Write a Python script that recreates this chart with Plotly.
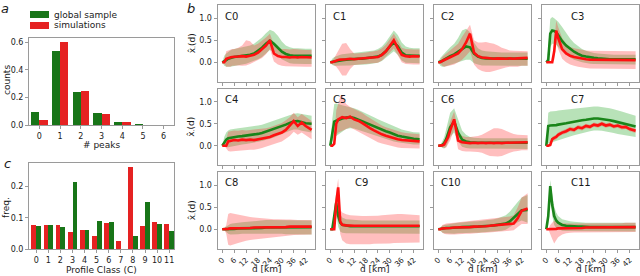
import plotly.graph_objects as go

# ---------------- data: panel a ----------------
peaks = [0, 1, 2, 3, 4, 5, 6]
peaks_global = [0.095, 0.535, 0.24, 0.088, 0.025, 0.005, 0.0]
peaks_sim = [0.035, 0.598, 0.248, 0.082, 0.02, 0.003, 0.001]

# ---------------- data: panel c ----------------
classes = [0, 1, 2, 3, 4, 5, 6, 7, 8, 9, 10, 11]
freq_sim = [0.077, 0.076, 0.076, 0.054, 0.061, 0.042, 0.083, 0.025, 0.262, 0.075, 0.086, 0.081]
freq_global = [0.073, 0.076, 0.070, 0.213, 0.062, 0.090, 0.085, 0.0, 0.041, 0.150, 0.079, 0.058]

# ---------------- data: panel b (distance grid, km) ----------------
D = [0, 1, 2, 3, 4, 5, 6, 8, 10, 12, 14, 16, 18, 20, 22, 24, 26, 28, 30, 32, 34, 36, 38, 40, 42, 45]
d_ticks = [0, 6, 12, 18, 24, 30, 36, 42]
profile_names = ["C0", "C1", "C2", "C3", "C4", "C5", "C6", "C7", "C8", "C9", "C10", "C11"]

C0_g = [0, 0.02, 0.05, 0.08, 0.1, 0.11, 0.12, 0.13, 0.14, 0.15, 0.17, 0.2, 0.26, 0.33, 0.42, 0.49, 0.42, 0.32, 0.24, 0.19, 0.16, 0.15, 0.15, 0.15, 0.15, 0.15]
C0_g_lo = [0, -0.08, -0.1, -0.1, -0.1, -0.1, -0.09, -0.07, -0.05, -0.03, 0, 0.03, 0.07, 0.12, 0.2, 0.28, 0.24, 0.15, 0.07, 0.02, -0.02, -0.03, -0.04, -0.04, -0.04, -0.04]
C0_g_hi = [0, 0.15, 0.2, 0.24, 0.27, 0.29, 0.3, 0.32, 0.34, 0.36, 0.38, 0.42, 0.48, 0.56, 0.66, 0.74, 0.7, 0.6, 0.47, 0.38, 0.34, 0.32, 0.32, 0.31, 0.31, 0.31]
C0_r = [0, 0, 0.08, 0.1, 0.11, 0.12, 0.12, 0.13, 0.14, 0.13, 0.15, 0.17, 0.22, 0.3, 0.38, 0.5, 0.2, 0.14, 0.12, 0.12, 0.11, 0.12, 0.11, 0.12, 0.11, 0.11]
C0_r_lo = [0, -0.02, -0.1, -0.1, -0.1, -0.08, -0.07, -0.07, -0.08, -0.07, -0.04, 0, 0.05, 0.1, 0.18, 0.3, 0.02, -0.05, -0.08, -0.09, -0.1, -0.1, -0.1, -0.1, -0.1, -0.1]
C0_r_hi = [0, 0.05, 0.25, 0.27, 0.28, 0.3, 0.3, 0.33, 0.38, 0.5, 0.48, 0.38, 0.42, 0.48, 0.56, 0.65, 0.4, 0.32, 0.3, 0.3, 0.29, 0.3, 0.29, 0.29, 0.28, 0.28]

C1_g = [0, 0.01, 0.02, 0.03, 0.04, 0.05, 0.05, 0.06, 0.07, 0.07, 0.08, 0.08, 0.09, 0.1, 0.11, 0.13, 0.17, 0.25, 0.36, 0.45, 0.36, 0.22, 0.16, 0.15, 0.15, 0.15]
C1_g_lo = [0, -0.06, -0.08, -0.08, -0.08, -0.08, -0.08, -0.07, -0.07, -0.06, -0.06, -0.05, -0.05, -0.04, -0.03, -0.01, 0.03, 0.09, 0.18, 0.25, 0.17, 0.04, -0.01, -0.02, -0.02, -0.02]
C1_g_hi = [0, 0.08, 0.12, 0.14, 0.16, 0.17, 0.18, 0.19, 0.2, 0.21, 0.22, 0.23, 0.24, 0.25, 0.27, 0.3, 0.36, 0.46, 0.6, 0.72, 0.62, 0.45, 0.36, 0.33, 0.32, 0.32]
C1_r = [0, 0, 0.02, 0.04, 0.05, 0.06, 0.06, 0.07, 0.08, 0.07, 0.08, 0.09, 0.09, 0.1, 0.11, 0.12, 0.17, 0.25, 0.37, 0.5, 0.32, 0.17, 0.14, 0.13, 0.14, 0.13]
C1_r_lo = [0, -0.02, -0.06, -0.1, -0.16, -0.22, -0.3, -0.3, -0.15, -0.06, -0.05, -0.04, -0.04, -0.03, -0.02, -0.01, 0.04, 0.12, 0.22, 0.32, 0.15, 0.0, -0.04, -0.05, -0.05, -0.05]
C1_r_hi = [0, 0.03, 0.1, 0.18, 0.25, 0.33, 0.42, 0.44, 0.3, 0.2, 0.2, 0.21, 0.22, 0.23, 0.25, 0.27, 0.32, 0.4, 0.52, 0.65, 0.5, 0.33, 0.3, 0.29, 0.29, 0.29]

C2_g = [0, 0.01, 0.03, 0.06, 0.09, 0.12, 0.14, 0.18, 0.24, 0.3, 0.36, 0.34, 0.2, 0.13, 0.1, 0.09, 0.09, 0.08, 0.08, 0.08, 0.08, 0.08, 0.08, 0.08, 0.08, 0.08]
C2_g_lo = [0, -0.08, -0.1, -0.1, -0.1, -0.08, -0.06, -0.04, 0.0, 0.03, 0.06, 0.06, -0.02, -0.05, -0.07, -0.08, -0.08, -0.08, -0.08, -0.08, -0.08, -0.08, -0.08, -0.08, -0.08, -0.08]
C2_g_hi = [0, 0.1, 0.15, 0.2, 0.26, 0.3, 0.34, 0.42, 0.55, 0.72, 0.76, 0.68, 0.45, 0.32, 0.27, 0.25, 0.24, 0.23, 0.23, 0.22, 0.22, 0.22, 0.22, 0.22, 0.22, 0.22]
C2_r = [0, 0, 0.03, 0.05, 0.08, 0.1, 0.12, 0.15, 0.2, 0.3, 0.45, 0.65, 0.22, 0.14, 0.11, 0.1, 0.09, 0.08, 0.09, 0.08, 0.08, 0.09, 0.08, 0.09, 0.1, 0.1]
C2_r_lo = [0, -0.02, -0.08, -0.1, -0.1, -0.08, -0.07, -0.05, 0.0, 0.06, 0.15, 0.25, -0.05, -0.15, -0.2, -0.22, -0.22, -0.2, -0.18, -0.15, -0.12, -0.1, -0.1, -0.1, -0.08, -0.08]
C2_r_hi = [0, 0.03, 0.12, 0.16, 0.2, 0.24, 0.28, 0.34, 0.42, 0.58, 0.72, 0.85, 0.5, 0.45, 0.45, 0.46, 0.44, 0.42, 0.38, 0.33, 0.3, 0.27, 0.26, 0.26, 0.25, 0.25]

C3_g = [0, 0.05, 0.65, 0.72, 0.71, 0.68, 0.62, 0.48, 0.38, 0.3, 0.24, 0.19, 0.15, 0.13, 0.11, 0.1, 0.09, 0.08, 0.08, 0.07, 0.07, 0.07, 0.07, 0.07, 0.07, 0.07]
C3_g_lo = [0, 0.0, 0.35, 0.42, 0.42, 0.4, 0.35, 0.25, 0.17, 0.11, 0.06, 0.03, 0.0, -0.02, -0.03, -0.04, -0.05, -0.05, -0.05, -0.05, -0.05, -0.05, -0.05, -0.05, -0.05, -0.05]
C3_g_hi = [0, 0.3, 0.98, 1.03, 1.0, 0.97, 0.92, 0.8, 0.66, 0.54, 0.44, 0.36, 0.3, 0.26, 0.23, 0.21, 0.2, 0.19, 0.18, 0.18, 0.17, 0.17, 0.17, 0.17, 0.17, 0.17]
C3_r = [0, 0, 0, 0, 0.25, 0.72, 0.55, 0.3, 0.2, 0.15, 0.12, 0.1, 0.08, 0.07, 0.06, 0.06, 0.05, 0.05, 0.05, 0.05, 0.05, 0.05, 0.05, 0.05, 0.05, 0.05]
C3_r_lo = [0, 0, 0, 0, 0.05, 0.45, 0.3, 0.08, 0.0, -0.05, -0.08, -0.1, -0.12, -0.13, -0.14, -0.15, -0.15, -0.15, -0.15, -0.15, -0.15, -0.15, -0.15, -0.15, -0.15, -0.15]
C3_r_hi = [0, 0, 0, 0, 0.45, 0.95, 0.8, 0.55, 0.42, 0.35, 0.32, 0.3, 0.28, 0.27, 0.26, 0.26, 0.25, 0.25, 0.25, 0.25, 0.25, 0.25, 0.25, 0.25, 0.25, 0.25]

C4_g = [0, 0.08, 0.14, 0.17, 0.18, 0.19, 0.2, 0.21, 0.22, 0.23, 0.24, 0.25, 0.27, 0.29, 0.32, 0.35, 0.38, 0.42, 0.45, 0.48, 0.52, 0.55, 0.56, 0.53, 0.51, 0.5]
C4_g_lo = [0, -0.02, -0.03, -0.03, -0.02, -0.01, 0.0, 0.01, 0.03, 0.04, 0.05, 0.07, 0.09, 0.11, 0.13, 0.16, 0.19, 0.23, 0.26, 0.3, 0.34, 0.37, 0.37, 0.34, 0.32, 0.3]
C4_g_hi = [0, 0.2, 0.3, 0.35, 0.37, 0.38, 0.39, 0.4, 0.41, 0.42, 0.43, 0.44, 0.46, 0.48, 0.51, 0.54, 0.57, 0.6, 0.63, 0.67, 0.7, 0.73, 0.74, 0.72, 0.7, 0.68]
C4_r = [0, 0, 0, 0.1, 0.11, 0.12, 0.13, 0.12, 0.14, 0.13, 0.14, 0.13, 0.15, 0.16, 0.18, 0.2, 0.24, 0.27, 0.3, 0.36, 0.45, 0.56, 0.45, 0.53, 0.45, 0.36]
C4_r_lo = [0, 0, -0.05, -0.12, -0.13, -0.13, -0.12, -0.12, -0.1, -0.1, -0.09, -0.09, -0.07, -0.05, -0.03, 0.0, 0.04, 0.07, 0.1, 0.15, 0.22, 0.32, 0.25, 0.3, 0.23, 0.15]
C4_r_hi = [0, 0, 0.15, 0.32, 0.33, 0.34, 0.35, 0.34, 0.36, 0.35, 0.36, 0.36, 0.37, 0.38, 0.4, 0.42, 0.45, 0.48, 0.52, 0.58, 0.65, 0.75, 0.65, 0.72, 0.65, 0.56]

C5_g = [0, 0.3, 0.55, 0.57, 0.59, 0.6, 0.62, 0.64, 0.65, 0.63, 0.6, 0.56, 0.52, 0.48, 0.44, 0.4, 0.37, 0.33, 0.3, 0.26, 0.23, 0.21, 0.19, 0.17, 0.16, 0.15]
C5_g_lo = [0, 0.1, 0.2, 0.22, 0.25, 0.28, 0.32, 0.38, 0.4, 0.39, 0.37, 0.34, 0.31, 0.28, 0.25, 0.22, 0.19, 0.16, 0.13, 0.1, 0.08, 0.06, 0.05, 0.04, 0.03, 0.03]
C5_g_hi = [0, 0.6, 0.95, 0.96, 0.95, 0.93, 0.92, 0.9, 0.88, 0.85, 0.82, 0.78, 0.74, 0.7, 0.65, 0.6, 0.56, 0.52, 0.48, 0.44, 0.4, 0.37, 0.35, 0.33, 0.31, 0.3]
C5_r = [0, 0, 0.05, 0.5, 0.6, 0.62, 0.65, 0.63, 0.66, 0.6, 0.57, 0.52, 0.45, 0.4, 0.35, 0.3, 0.26, 0.23, 0.2, 0.17, 0.15, 0.13, 0.12, 0.11, 0.1, 0.1]
C5_r_lo = [0, 0, 0.0, 0.25, 0.3, 0.32, 0.35, 0.38, 0.42, 0.37, 0.33, 0.28, 0.22, 0.18, 0.13, 0.08, 0.05, 0.02, 0.0, -0.02, -0.04, -0.05, -0.05, -0.05, -0.06, -0.06]
C5_r_hi = [0, 0, 0.1, 0.8, 0.95, 1.12, 1.15, 0.95, 0.88, 0.84, 0.8, 0.75, 0.68, 0.62, 0.56, 0.51, 0.46, 0.42, 0.39, 0.36, 0.33, 0.31, 0.29, 0.28, 0.27, 0.26]

C6_g = [0, 0.0, 0.02, 0.06, 0.15, 0.28, 0.42, 0.55, 0.3, 0.14, 0.1, 0.08, 0.07, 0.07, 0.07, 0.07, 0.07, 0.07, 0.07, 0.07, 0.07, 0.07, 0.07, 0.07, 0.07, 0.07]
C6_g_lo = [0, 0, -0.05, -0.06, -0.02, 0.08, 0.2, 0.3, 0.1, -0.02, -0.05, -0.06, -0.07, -0.07, -0.07, -0.07, -0.07, -0.07, -0.07, -0.07, -0.07, -0.07, -0.07, -0.07, -0.07, -0.07]
C6_g_hi = [0, 0.02, 0.1, 0.2, 0.38, 0.58, 0.75, 0.85, 0.6, 0.35, 0.25, 0.2, 0.18, 0.17, 0.17, 0.17, 0.17, 0.17, 0.17, 0.17, 0.17, 0.17, 0.17, 0.17, 0.17, 0.17]
C6_r = [0, 0, 0.01, 0.03, 0.1, 0.2, 0.35, 0.6, 0.12, 0.08, 0.07, 0.06, 0.07, 0.06, 0.07, 0.06, 0.07, 0.06, 0.07, 0.06, 0.07, 0.07, 0.07, 0.07, 0.08, 0.08]
C6_r_lo = [0, 0, -0.03, -0.05, -0.04, 0.02, 0.12, 0.38, -0.08, -0.12, -0.13, -0.13, -0.13, -0.14, -0.16, -0.2, -0.23, -0.24, -0.24, -0.23, -0.2, -0.16, -0.13, -0.12, -0.1, -0.1]
C6_r_hi = [0, 0, 0.06, 0.12, 0.22, 0.38, 0.55, 0.78, 0.3, 0.22, 0.2, 0.2, 0.21, 0.22, 0.25, 0.3, 0.36, 0.4, 0.4, 0.38, 0.34, 0.3, 0.27, 0.25, 0.24, 0.24]

C7_g = [0, 0.45, 0.46, 0.46, 0.47, 0.47, 0.48, 0.49, 0.51, 0.53, 0.55, 0.56, 0.58, 0.59, 0.61, 0.62, 0.62, 0.61, 0.6, 0.58, 0.56, 0.54, 0.52, 0.5, 0.47, 0.44]
C7_g_lo = [0, 0.05, 0.07, 0.08, 0.1, 0.11, 0.12, 0.15, 0.18, 0.21, 0.24, 0.27, 0.29, 0.31, 0.33, 0.35, 0.35, 0.34, 0.33, 0.31, 0.29, 0.27, 0.25, 0.23, 0.22, 0.2]
C7_g_hi = [0, 0.75, 0.78, 0.78, 0.79, 0.79, 0.8, 0.81, 0.82, 0.84, 0.85, 0.86, 0.87, 0.88, 0.89, 0.89, 0.89, 0.88, 0.87, 0.85, 0.83, 0.81, 0.78, 0.75, 0.72, 0.68]
C7_r = [0, 0, 0.02, 0.15, 0.18, 0.2, 0.25, 0.3, 0.33, 0.38, 0.36, 0.42, 0.4, 0.45, 0.43, 0.48, 0.46, 0.5, 0.46, 0.48, 0.44, 0.46, 0.42, 0.43, 0.38, 0.34]
C7_r_lo = [0, 0, 0, 0.1, 0.13, 0.15, 0.2, 0.25, 0.28, 0.33, 0.31, 0.37, 0.35, 0.4, 0.38, 0.43, 0.41, 0.45, 0.41, 0.43, 0.39, 0.41, 0.37, 0.38, 0.33, 0.29]
C7_r_hi = [0, 0, 0.04, 0.2, 0.23, 0.25, 0.3, 0.35, 0.38, 0.43, 0.41, 0.47, 0.45, 0.5, 0.48, 0.53, 0.51, 0.55, 0.51, 0.53, 0.49, 0.51, 0.47, 0.48, 0.43, 0.39]

C8_g = [0, 0.0, 0.01, 0.01, 0.01, 0.01, 0.01, 0.02, 0.02, 0.02, 0.03, 0.03, 0.03, 0.03, 0.04, 0.04, 0.04, 0.04, 0.04, 0.04, 0.05, 0.05, 0.05, 0.05, 0.05, 0.05]
C8_g_lo = [0, -0.02, -0.05, -0.1, -0.12, -0.12, -0.12, -0.11, -0.1, -0.1, -0.09, -0.09, -0.09, -0.09, -0.09, -0.09, -0.1, -0.1, -0.1, -0.11, -0.11, -0.12, -0.12, -0.12, -0.12, -0.12]
C8_g_hi = [0, 0.03, 0.06, 0.1, 0.12, 0.13, 0.14, 0.15, 0.16, 0.17, 0.18, 0.19, 0.2, 0.2, 0.21, 0.21, 0.21, 0.21, 0.21, 0.21, 0.21, 0.21, 0.21, 0.2, 0.2, 0.2]
C8_r = [0, 0, 0, 0.01, 0.02, 0.02, 0.02, 0.02, 0.03, 0.03, 0.03, 0.04, 0.04, 0.04, 0.04, 0.05, 0.05, 0.05, 0.05, 0.05, 0.06, 0.06, 0.06, 0.06, 0.06, 0.06]
C8_r_lo = [0, 0, -0.1, -0.35, -0.37, -0.36, -0.34, -0.31, -0.28, -0.26, -0.24, -0.22, -0.21, -0.2, -0.19, -0.18, -0.17, -0.16, -0.15, -0.15, -0.14, -0.13, -0.13, -0.12, -0.12, -0.12]
C8_r_hi = [0, 0, 0.1, 0.35, 0.37, 0.36, 0.35, 0.33, 0.31, 0.29, 0.28, 0.27, 0.26, 0.25, 0.24, 0.24, 0.23, 0.23, 0.22, 0.22, 0.22, 0.21, 0.21, 0.21, 0.21, 0.21]

C9_g = [0, 0.0, 0.3, 0.6, 0.3, 0.15, 0.1, 0.08, 0.07, 0.07, 0.07, 0.07, 0.07, 0.07, 0.07, 0.07, 0.07, 0.07, 0.07, 0.07, 0.07, 0.07, 0.07, 0.07, 0.07, 0.07]
C9_g_lo = [0, 0, 0.1, 0.35, 0.05, -0.05, -0.08, -0.09, -0.1, -0.1, -0.1, -0.1, -0.1, -0.1, -0.1, -0.1, -0.1, -0.1, -0.1, -0.1, -0.1, -0.1, -0.1, -0.1, -0.1, -0.1]
C9_g_hi = [0, 0.02, 0.5, 0.85, 0.55, 0.35, 0.27, 0.23, 0.22, 0.21, 0.21, 0.2, 0.2, 0.2, 0.2, 0.2, 0.2, 0.2, 0.2, 0.2, 0.2, 0.2, 0.2, 0.2, 0.2, 0.2]
C9_r = [0, 0, 0, 0.6, 0.95, 0.18, 0.1, 0.09, 0.08, 0.08, 0.08, 0.08, 0.08, 0.08, 0.08, 0.08, 0.08, 0.08, 0.08, 0.08, 0.08, 0.08, 0.08, 0.08, 0.08, 0.08]
C9_r_lo = [0, 0, 0, 0.4, 0.7, -0.1, -0.25, -0.32, -0.34, -0.35, -0.35, -0.35, -0.34, -0.34, -0.33, -0.33, -0.32, -0.32, -0.32, -0.31, -0.31, -0.3, -0.3, -0.3, -0.3, -0.3]
C9_r_hi = [0, 0, 0.05, 0.85, 1.15, 0.45, 0.38, 0.34, 0.32, 0.31, 0.3, 0.3, 0.3, 0.3, 0.3, 0.31, 0.32, 0.33, 0.34, 0.35, 0.35, 0.35, 0.34, 0.33, 0.32, 0.32]

C10_g = [0, 0.01, 0.02, 0.02, 0.03, 0.03, 0.03, 0.04, 0.04, 0.05, 0.05, 0.05, 0.06, 0.06, 0.07, 0.07, 0.08, 0.09, 0.1, 0.11, 0.13, 0.18, 0.27, 0.35, 0.43, 0.44]
C10_g_lo = [0, -0.04, -0.07, -0.09, -0.1, -0.1, -0.1, -0.1, -0.09, -0.09, -0.09, -0.08, -0.08, -0.08, -0.07, -0.07, -0.06, -0.05, -0.04, -0.03, -0.01, 0.03, 0.1, 0.16, 0.2, 0.15]
C10_g_hi = [0, 0.05, 0.08, 0.1, 0.11, 0.12, 0.13, 0.14, 0.15, 0.16, 0.16, 0.17, 0.18, 0.18, 0.19, 0.2, 0.21, 0.23, 0.25, 0.28, 0.32, 0.4, 0.52, 0.62, 0.72, 0.78]
C10_r = [0, 0, 0.02, 0.02, 0.03, 0.03, 0.03, 0.04, 0.04, 0.05, 0.05, 0.05, 0.06, 0.06, 0.07, 0.07, 0.08, 0.09, 0.1, 0.1, 0.11, 0.12, 0.13, 0.25, 0.42, 0.47]
C10_r_lo = [0, 0, -0.08, -0.1, -0.11, -0.12, -0.12, -0.12, -0.11, -0.11, -0.1, -0.1, -0.09, -0.09, -0.08, -0.08, -0.07, -0.06, -0.05, -0.05, -0.04, -0.03, -0.02, 0.05, 0.12, 0.12]
C10_r_hi = [0, 0, 0.1, 0.12, 0.13, 0.14, 0.14, 0.15, 0.16, 0.17, 0.17, 0.18, 0.19, 0.2, 0.21, 0.22, 0.23, 0.24, 0.25, 0.26, 0.27, 0.29, 0.32, 0.5, 0.72, 0.82]

C11_g = [0, 0.3, 0.98, 0.55, 0.3, 0.2, 0.15, 0.1, 0.08, 0.07, 0.06, 0.06, 0.06, 0.05, 0.05, 0.05, 0.05, 0.05, 0.05, 0.05, 0.05, 0.05, 0.05, 0.05, 0.05, 0.05]
C11_g_lo = [0, 0.1, 0.8, 0.3, 0.1, 0.03, 0.0, -0.03, -0.04, -0.05, -0.05, -0.05, -0.05, -0.05, -0.05, -0.05, -0.05, -0.05, -0.05, -0.05, -0.05, -0.05, -0.05, -0.05, -0.05, -0.05]
C11_g_hi = [0, 0.5, 1.12, 0.8, 0.52, 0.38, 0.3, 0.23, 0.2, 0.18, 0.17, 0.16, 0.16, 0.15, 0.15, 0.15, 0.15, 0.15, 0.15, 0.15, 0.15, 0.15, 0.15, 0.15, 0.15, 0.15]
C11_r = [0, 0, 0.0, 0.01, 0.01, 0.01, 0.02, 0.02, 0.02, 0.03, 0.03, 0.03, 0.03, 0.04, 0.04, 0.04, 0.04, 0.04, 0.05, 0.05, 0.05, 0.05, 0.05, 0.05, 0.05, 0.05]
C11_r_lo = [0, 0, -0.1, -0.22, -0.32, -0.25, -0.18, -0.12, -0.09, -0.08, -0.07, -0.07, -0.07, -0.07, -0.06, -0.06, -0.06, -0.06, -0.06, -0.06, -0.06, -0.06, -0.06, -0.06, -0.06, -0.06]
C11_r_hi = [0, 0, 0.1, 0.15, 0.2, 0.17, 0.15, 0.14, 0.13, 0.13, 0.13, 0.13, 0.13, 0.13, 0.13, 0.13, 0.13, 0.14, 0.14, 0.14, 0.14, 0.14, 0.14, 0.15, 0.15, 0.15]

profiles = [
    (C0_g, C0_g_lo, C0_g_hi, C0_r, C0_r_lo, C0_r_hi),
    (C1_g, C1_g_lo, C1_g_hi, C1_r, C1_r_lo, C1_r_hi),
    (C2_g, C2_g_lo, C2_g_hi, C2_r, C2_r_lo, C2_r_hi),
    (C3_g, C3_g_lo, C3_g_hi, C3_r, C3_r_lo, C3_r_hi),
    (C4_g, C4_g_lo, C4_g_hi, C4_r, C4_r_lo, C4_r_hi),
    (C5_g, C5_g_lo, C5_g_hi, C5_r, C5_r_lo, C5_r_hi),
    (C6_g, C6_g_lo, C6_g_hi, C6_r, C6_r_lo, C6_r_hi),
    (C7_g, C7_g_lo, C7_g_hi, C7_r, C7_r_lo, C7_r_hi),
    (C8_g, C8_g_lo, C8_g_hi, C8_r, C8_r_lo, C8_r_hi),
    (C9_g, C9_g_lo, C9_g_hi, C9_r, C9_r_lo, C9_r_hi),
    (C10_g, C10_g_lo, C10_g_hi, C10_r, C10_r_lo, C10_r_hi),
    (C11_g, C11_g_lo, C11_g_hi, C11_r, C11_r_lo, C11_r_hi),
]

# ---------------- styling ----------------
W, H = 640, 276
BAR_G = "#187518"
BAR_R = "#e52222"
LINE_G = "#1a851a"
LINE_R = "#ff1010"
BAND_G = "rgba(0,150,0,0.28)"
BAND_R = "rgba(255,40,40,0.30)"
FRAME = "#9a9a9a"
TXT = "#1a1a1a"
FONT = "DejaVu Sans"
TICK = 8
LABEL = 9


def fx(p):
    return p / W


def fy(p):
    return 1 - p / H


fig = go.Figure()
layout = dict(
    width=W, height=H, margin=dict(l=0, r=0, t=0, b=0, autoexpand=False),
    paper_bgcolor="white", plot_bgcolor="white",
    font=dict(family=FONT, size=9, color=TXT),
    bargap=0, barmode="overlay", showlegend=False,
)


def axis_style(**kw):
    base = dict(showline=True, mirror=True, linecolor=FRAME, linewidth=1,
                ticks="outside", ticklen=3, tickcolor=FRAME, tickwidth=1,
                showgrid=False, zeroline=False, automargin=False,
                tickfont=dict(size=TICK, color=TXT))
    base.update(kw)
    return base


annotations = []
shapes = []


def text(t, px, py, size=LABEL, angle=0, xanchor="center", yanchor="middle"):
    annotations.append(dict(text=t, xref="paper", yref="paper", x=fx(px), y=fy(py),
                            xanchor=xanchor, yanchor=yanchor, showarrow=False, textangle=angle,
                            font=dict(size=size, color=TXT)))


# ---------------- panel a ----------------
fig.add_trace(go.Bar(x=peaks, y=peaks_global, width=0.4, offset=-0.4,
                     marker=dict(color=BAR_G, line=dict(width=0)),
                     name="global sample", xaxis="x", yaxis="y"))
fig.add_trace(go.Bar(x=peaks, y=peaks_sim, width=0.4, offset=0.0,
                     marker=dict(color=BAR_R, line=dict(width=0)),
                     name="simulations", xaxis="x", yaxis="y"))
layout["xaxis"] = axis_style(domain=[fx(29), fx(174)], range=[-0.5, 6.5], tickvals=peaks,
                             tickangle=0, anchor="y")
layout["yaxis"] = axis_style(domain=[fy(125), fy(38)], range=[0, 0.63], tickvals=[0, 0.2, 0.4, 0.6],
                             ticktext=["0.0", "0.2", "0.4", "0.6"], anchor="x")
text("# peaks", 101, 145)
text("counts", 7, 80, angle=-90)

# legend drawn as patches + labels (matplotlib style)
for col, lab, py in [(BAR_G, "global sample", 14.5), (BAR_R, "simulations", 25.5)]:
    shapes.append(dict(type="rect", xref="paper", yref="paper", x0=fx(30), x1=fx(49),
                       y0=fy(py + 3.5), y1=fy(py - 3.5), fillcolor=col, line=dict(width=0)))
    text(lab, 52, py, size=9, xanchor="left")

# ---------------- panel c ----------------
fig.add_trace(go.Bar(x=classes, y=freq_sim, width=0.4, offset=-0.4,
                     marker=dict(color=BAR_R, line=dict(width=0)),
                     xaxis="x2", yaxis="y2"))
fig.add_trace(go.Bar(x=classes, y=freq_global, width=0.4, offset=0.0,
                     marker=dict(color=BAR_G, line=dict(width=0)),
                     xaxis="x2", yaxis="y2"))
layout["xaxis2"] = axis_style(domain=[fx(29), fx(174)], range=[-0.6, 11.4], tickvals=classes,
                              tickangle=0, anchor="y2")
layout["yaxis2"] = axis_style(domain=[fy(249), fy(163)], range=[0, 0.275], tickvals=[0, 0.1, 0.2],
                              ticktext=["0.0", "0.1", "0.2"], anchor="x2")
text("Profile Class (C)", 101, 270)
text("freq.", 6, 208, angle=-90)

# ---------------- panel b ----------------
col_left = [217.5, 325.5, 433.5, 541.5]
col_w = 97.5
row_top = [5, 88.5, 172]
row_h = 76.7
label_shift = {3: 22, 7: 22, 9: 22, 11: 22}

for i, (g, glo, ghi, r, rlo, rhi) in enumerate(profiles):
    k = i + 3
    xa, ya = f"x{k}", f"y{k}"
    row, col = divmod(i, 4)
    fig.add_trace(go.Scatter(x=D + D[::-1], y=ghi + glo[::-1], fill="toself", fillcolor=BAND_G,
                             line=dict(width=0), mode="lines", hoverinfo="skip",
                             xaxis=xa, yaxis=ya))
    fig.add_trace(go.Scatter(x=D + D[::-1], y=rhi + rlo[::-1], fill="toself", fillcolor=BAND_R,
                             line=dict(width=0), mode="lines", hoverinfo="skip",
                             xaxis=xa, yaxis=ya))
    fig.add_trace(go.Scatter(x=D, y=g, mode="lines", line=dict(color=LINE_G, width=2.6),
                             xaxis=xa, yaxis=ya))
    fig.add_trace(go.Scatter(x=D, y=r, mode="lines", line=dict(color=LINE_R, width=2.6),
                             xaxis=xa, yaxis=ya))
    left = col_left[col]
    top = row_top[row]
    bottom_row = row == 2
    first_col = col == 0
    layout[f"xaxis{k}"] = axis_style(domain=[fx(left), fx(left + col_w)], range=[-2.4, 46.7],
                                     tickvals=d_ticks, showticklabels=bottom_row, tickangle=-45,
                                     tickfont=dict(size=7.5, color=TXT), anchor=ya)
    layout[f"yaxis{k}"] = axis_style(domain=[fy(top + row_h), fy(top)], range=[-0.44, 1.30],
                                     tickvals=[0, 0.5, 1.0], ticktext=["0.0", "0.5", "1.0"],
                                     showticklabels=first_col, anchor=xa)
    if bottom_row:
        text("d [km]", left + col_w / 2 + 1, 269)
    if first_col:
        text("x̂<sub>·</sub>(d)", 192, top + row_h / 2, angle=-90)
    text(profile_names[i], left + 5 + label_shift.get(i, 0), top + 11, size=10, xanchor="left")

text("<i>a</i>", 5, 8, size=13)
text("<i>b</i>", 191, 8, size=13)
text("<i>c</i>", 7, 163, size=13)

layout["annotations"] = annotations
layout["shapes"] = shapes
fig.update_layout(**layout)
fig.write_html("out.html", config={"displayModeBar": False, "staticPlot": True},
               post_script="document.body.style.margin='0';document.body.style.padding='0';"
                           "document.body.style.overflow='hidden';")
